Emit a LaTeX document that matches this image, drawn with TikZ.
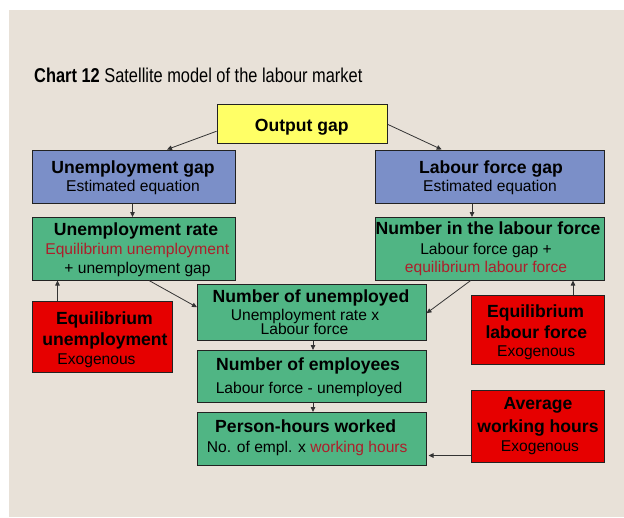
\documentclass[tikz,border=0pt]{standalone}
\usepackage{fontspec}
\setmainfont{Liberation Sans}
\newfontfamily\titlefont{Liberation Sans}[FakeStretch=0.82]
\usetikzlibrary{arrows.meta,calc}
\definecolor{bg}{HTML}{E8E1D8}
\definecolor{ygold}{HTML}{FFFF66}
\definecolor{bblue}{HTML}{7B8FC8}
\definecolor{ggreen}{HTML}{50B584}
\definecolor{rred}{HTML}{E60000}
\definecolor{dred}{HTML}{AD1F2B}
\definecolor{edge}{HTML}{222222}
\begin{document}
\begin{tikzpicture}[x=1pt,y=-1pt,
  box/.style={draw=edge, line width=1pt, inner sep=0pt, anchor=north west},
  ttl/.style={anchor=base, inner sep=0pt, font=\fontsize{17.6}{20}\selectfont\bfseries},
  sub/.style={anchor=base, inner sep=0pt, font=\fontsize{15.6}{18}\selectfont},
  redtxt/.style={sub, text=dred},
  arr/.style={draw=black!80, line width=0.8pt, -{Triangle[length=5pt,width=4.5pt]}}]
\useasboundingbox (0,0) rectangle (624,517);
\fill[bg] (9,10) rectangle (624,517);
\node[anchor=base west, inner sep=0pt, font=\titlefont\fontsize{20}{24}\selectfont] (title) at (34,82) {\textbf{Chart 12} Satellite model of the labour market};
% boxes
\node[box, fill=ygold, minimum width=170.5pt, minimum height=38.5pt] (og) at (216.5,104) {};
\node[box, fill=bblue, minimum width=203pt, minimum height=53pt] (ug) at (31.5,149.5) {};
\node[box, fill=bblue, minimum width=229pt, minimum height=53pt] (lfg) at (375,149.5) {};
\node[box, fill=ggreen, minimum width=203pt, minimum height=62.5pt] (ur) at (31.5,217) {};
\node[box, fill=ggreen, minimum width=229pt, minimum height=62.5pt] (nlf) at (375,217) {};
\node[box, fill=ggreen, minimum width=228.5pt, minimum height=56.5pt] (nu) at (197,283.5) {};
\node[box, fill=rred, minimum width=140pt, minimum height=71pt] (eu) at (31.5,301) {};
\node[box, fill=rred, minimum width=133pt, minimum height=69.5pt] (elf) at (470.5,294.5) {};
\node[box, fill=ggreen, minimum width=229pt, minimum height=52pt] (ne) at (197,350) {};
\node[box, fill=ggreen, minimum width=229pt, minimum height=52.5pt] (ph) at (197,412) {};
\node[box, fill=rred, minimum width=133pt, minimum height=72pt] (aw) at (470.5,389.5) {};
% texts
\node[ttl] (t-og) at (301.75,131) {Output gap};
\node[ttl] (t-ug) at (133,173) {Unemployment gap};
\node[sub] (s-ug) at (133,191.7) {Estimated equation};
\node[ttl] (t-lfg) at (491,173) {Labour force gap};
\node[sub] (s-lfg) at (490,191.7) {Estimated equation};
\node[ttl] (t-ur) at (136,235.3) {Unemployment rate};
\node[redtxt] (r-ur) at (137.3,254) {Equilibrium unemployment};
\node[sub] (s-ur) at (137.5,273.3) {+ unemployment gap};
\node[ttl] (t-nlf) at (488,234.3) {Number in the labour force};
\node[sub] (s-nlf) at (486,254.3) {Labour force gap +};
\node[redtxt] (r-nlf) at (486,272.7) {equilibrium labour force};
\node[ttl] (t-nu) at (311,302) {Number of unemployed};
\node[sub] (s-nu) at (305,320) {Unemployment rate x};
\node[sub] (s2-nu) at (304.5,334.3) {Labour force};
\node[ttl] (t-eu) at (104.4,324) {Equilibrium};
\node[ttl] (t2-eu) at (105,345.7) {unemployment};
\node[sub] (s-eu) at (96.5,364.3) {Exogenous};
\node[ttl] (t-elf) at (535.5,317.3) {Equilibrium};
\node[ttl] (t2-elf) at (536.4,338.3) {labour force};
\node[sub] (s-elf) at (536.2,356.7) {Exogenous};
\node[ttl] (t-ne) at (308,370.7) {Number of employees};
\node[sub] (s-ne) at (309,393.3) {Labour force - unemployed};
\node[ttl] (t-ph) at (305.7,432.7) {Person-hours worked};
\node[sub] (s-ph) at (307.2,452.3) {No. of empl. x \textcolor{dred}{working hours}};
\node[ttl] (t-aw) at (538,409.3) {Average};
\node[ttl] (t2-aw) at (538,432.3) {working hours};
\node[sub] (s-aw) at (540,451) {Exogenous};
% connectors
\draw[arr] ($(og.west)+(0,7.5)$) -- ($(ug.north west)+(135.5,0)$);
\draw[arr] ($(og.east)+(0,0.75)$) -- ($(lfg.north west)+(66.7,0)$);
\draw[arr] ($(ug.south west)+(101,0)$) -- ($(ur.north west)+(101,0)$);
\draw[arr] ($(lfg.south west)+(97,0)$) -- ($(nlf.north west)+(97,0)$);
\draw[arr] ($(ur.south west)+(117.5,0)$) -- ($(nu.west)+(0,-5)$);
\draw[arr] ($(nlf.south west)+(95.7,0)$) -- ($(nu.east)+(0,1)$);
\draw[arr] ($(eu.north west)+(26,0)$) -- ($(ur.south west)+(26,0)$);
\draw[arr] ($(elf.north west)+(102.5,0)$) -- ($(nlf.south west)+(198,0)$);
\draw[arr] ($(nu.south west)+(116,0)$) -- ($(ne.north west)+(116,0)$);
\draw[arr] ($(ne.south west)+(116,0)$) -- ($(ph.north west)+(116,0)$);
\draw[arr] ($(aw.west)+(0,29.5)$) -- ($(ph.east)+(1.5,16.75)$);
\end{tikzpicture}
\end{document}
